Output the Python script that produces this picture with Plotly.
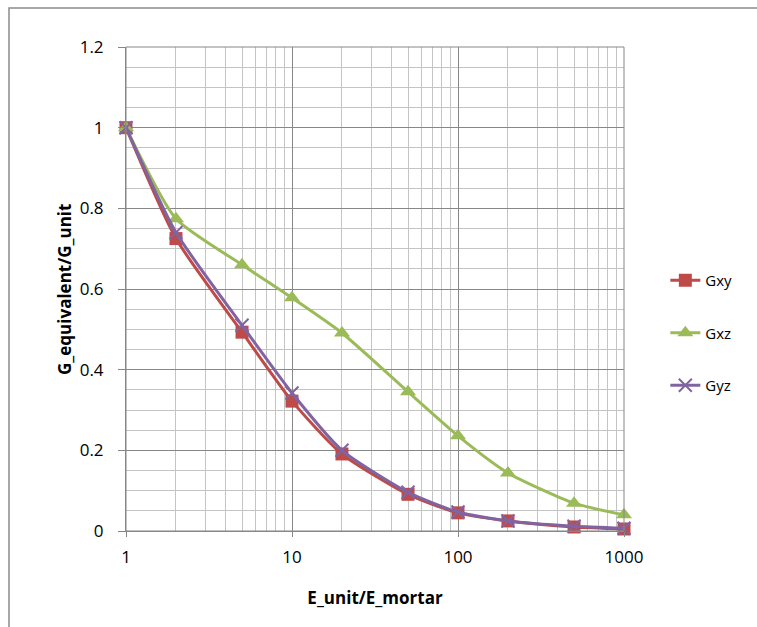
import plotly.graph_objects as go

# Stiffness ratio of unit to mortar
ratio = [1, 2, 5, 10, 20, 50, 100, 200, 500, 1000]

# Normalised equivalent shear moduli
g_xy = [1.0, 0.725, 0.493, 0.322, 0.191, 0.091, 0.045, 0.025, 0.010, 0.005]
g_xz = [1.0, 0.774, 0.660, 0.578, 0.491, 0.345, 0.236, 0.144, 0.069, 0.040]
g_yz = [1.0, 0.740, 0.510, 0.342, 0.200, 0.096, 0.047, 0.025, 0.012, 0.007]

x_ticks = [1, 10, 100, 1000]
x_tick_text = ["1", "10", "100", "1000"]

FONT = "Open Sans"
MAJOR = "#878787"
MINOR = "#c4c4c4"

fig = go.Figure()

series = [
    ("Gxy", g_xy, "#be4b48", dict(symbol="square", size=13)),
    ("Gxz", g_xz, "#9bbb59", dict(symbol="triangle-up", size=14)),
    ("Gyz", g_yz, "#8064a2", dict(symbol="x-thin", size=13,
                                   line=dict(width=2, color="#8064a2"))),
]
for i, (name, vals, color, marker) in enumerate(series):
    fig.add_trace(go.Scatter(
        x=ratio, y=vals, name=name, mode="lines+markers",
        line=dict(color=color, width=3, shape="spline", smoothing=0.6),
        marker=dict(color=color, **marker),
        legendgroup=f"g{i}", cliponaxis=False,
    ))

# Plot area occupies x 126..624, y 47..531 px
L, R, T, B = 126, 624, 47, 531
W, H = 757, 627
pw, ph = R - L, B - T

fig.update_layout(
    width=W, height=H,
    margin=dict(l=L, r=W - R, t=T, b=H - B, pad=0),
    paper_bgcolor="white", plot_bgcolor="white",
    font=dict(family=FONT, size=13, color="#000000"),
    showlegend=True,
    legend=dict(
        x=1.083, xanchor="left", y=(B - 333) / ph, yanchor="middle",
        font=dict(family=FONT, size=15), tracegroupgap=30,
        bgcolor="rgba(0,0,0,0)",
    ),
    xaxis=dict(
        type="log", range=[0, 3],
        tickvals=x_ticks, ticktext=x_tick_text,
        showgrid=True, gridcolor=MAJOR, gridwidth=1,
        showline=True, linecolor=MAJOR, linewidth=1, mirror=False,
        ticks="outside", ticklen=5, tickcolor=MAJOR,
        ticklabelstandoff=6,
        tickfont=dict(family=FONT, size=17),
        minor=dict(dtick="D1", showgrid=True, gridcolor=MINOR, gridwidth=1,
                   ticks=""),
        title=dict(text="<b>E_unit/E_mortar</b>", standoff=24,
                   font=dict(family=FONT, size=17)),
        zeroline=False,
    ),
    yaxis=dict(
        range=[0, 1.2],
        tickvals=[0, 0.2, 0.4, 0.6, 0.8, 1.0, 1.2],
        ticktext=["0", "0.2", "0.4", "0.6", "0.8", "1", "1.2"],
        showgrid=True, gridcolor=MAJOR, gridwidth=1,
        showline=True, linecolor=MAJOR, linewidth=1,
        ticks="outside", ticklen=7, tickcolor=MAJOR,
        ticklabelstandoff=11,
        tickfont=dict(family=FONT, size=17),
        minor=dict(dtick=0.05, showgrid=True, gridcolor=MINOR, gridwidth=1,
                   ticks=""),
        zeroline=False,
    ),
    annotations=[
        # vertical axis title
        dict(text="<b>G_equivalent/G_unit</b>", textangle=-90,
             xref="paper", yref="paper", x=(64 - L) / pw, y=(B - 290) / ph,
             xanchor="center", yanchor="middle", showarrow=False,
             font=dict(family=FONT, size=17, color="#000000")),
    ],
    shapes=[
        # plot area frame on the top and right
        dict(type="rect", xref="paper", yref="paper", x0=0, x1=1, y0=0, y1=1,
             line=dict(color=MAJOR, width=1), layer="above"),
        # outer chart frame
        dict(type="rect", xref="paper", yref="paper",
             x0=(9 - L) / pw, x1=(W + 20 - L) / pw,
             y0=-(H + 20 - B) / ph, y1=1 + (T - 8) / ph,
             line=dict(color="#8c8c8c", width=1.5), layer="below"),
    ],
)

fig.write_html("out.html")
